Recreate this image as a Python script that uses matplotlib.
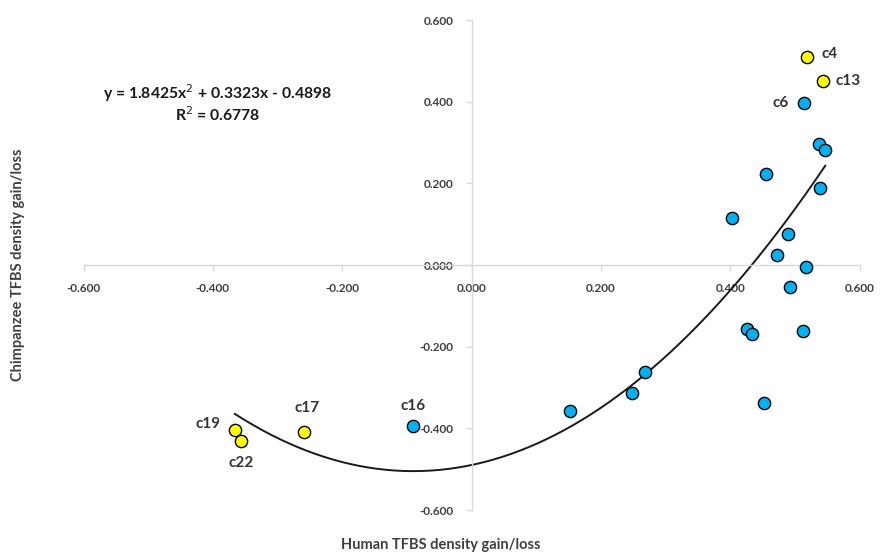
import matplotlib.pyplot as plt
import numpy as np

# chromosomes that stand out (yellow)
outlier_names = ['c4', 'c13', 'c19', 'c22', 'c17']
outlier_human = [0.519, 0.544, -0.366, -0.356, -0.259]
outlier_chimp = [0.509, 0.451, -0.404, -0.431, -0.409]

# the remaining chromosomes (blue); only c6 and c16 get a label
other_names = ['c16', 'c6', '', '', '', '', '', '', '', '', '', '', '', '', '', '', '', '']
other_human = [-0.090, 0.514, 0.537, 0.547, 0.455, 0.539, 0.403, 0.489, 0.472,
               0.517, 0.493, 0.426, 0.434, 0.513, 0.452, 0.268, 0.248, 0.152]
other_chimp = [-0.394, 0.397, 0.296, 0.282, 0.223, 0.189, 0.115, 0.076, 0.024,
               -0.005, -0.054, -0.157, -0.169, -0.162, -0.338, -0.262, -0.313, -0.358]

# polynomial trendline (order 2) and its fit
coef = [1.8425, 0.3323, -0.4898]
r2 = 0.6778

ticks = [-0.6, -0.4, -0.2, 0.0, 0.2, 0.4, 0.6]

plt.rcParams['font.family'] = ['Lato', 'DejaVu Sans']

fig = plt.figure(figsize=(8.82, 5.58), dpi=100)
ax = fig.add_axes([0.0947, 0.086, 0.8798, 0.878])

all_x = np.array(outlier_human + other_human)
xs = np.linspace(all_x.min(), all_x.max(), 200)
ax.plot(xs, np.polyval(coef, xs), color='#1a1a1a', lw=1.4, zorder=2)

ax.scatter(other_human, other_chimp, s=78, color='#00b0f0', edgecolors='black',
           linewidths=1.0, zorder=3)
ax.scatter(outlier_human, outlier_chimp, s=78, color='#ffff00', edgecolors='black',
           linewidths=1.0, zorder=3)

# label offsets in points for each named chromosome
offsets = {'c4': (10, 2, 'left'), 'c13': (9, 0, 'left'), 'c6': (-11, 0, 'right'),
           'c16': (0, 14, 'center'), 'c17': (2, 17, 'center'), 'c19': (-10, 4, 'right'),
           'c22': (0, -16, 'center')}
for name, xv, yv in zip(outlier_names + other_names, outlier_human + other_human,
                        outlier_chimp + other_chimp):
    if not name:
        continue
    dx, dy, ha = offsets[name]
    ax.annotate(name, (xv, yv), xytext=(dx, dy), textcoords='offset points',
                ha=ha, va='center', fontsize=11, fontweight='bold', color='#333333')

ax.set_xlim(-0.6, 0.6)
ax.set_ylim(-0.6, 0.6)
ax.set_xticks(ticks)
ax.set_yticks(ticks)
ax.set_xticklabels([f'{t:.3f}' for t in ticks])
ax.set_yticklabels([f'{t:.3f}' for t in ticks])

for side in ['left', 'bottom']:
    ax.spines[side].set_position(('data', 0))
    ax.spines[side].set_color('#d9d9d9')
    ax.spines[side].set_linewidth(1.0)
ax.spines['top'].set_visible(False)
ax.spines['right'].set_visible(False)
ax.tick_params(axis='both', direction='out', length=4, width=1.0, color='#d9d9d9',
               labelsize=8.5, labelcolor='#404040')
ax.tick_params(axis='x', pad=9)
ax.tick_params(axis='y', pad=9)
for lab in ax.get_xticklabels() + ax.get_yticklabels():
    lab.set_fontweight('bold')

fig.text(0.247, 0.833, 'y = 1.8425x$^2$ + 0.3323x - 0.4898', ha='center', va='center',
         fontsize=11.3, fontweight='bold', color='#1a1a1a')
fig.text(0.247, 0.794, f'R$^2$ = {r2}', ha='center', va='center',
         fontsize=11.3, fontweight='bold', color='#1a1a1a')

fig.text(0.5, 0.023, 'Human TFBS density gain/loss', ha='center', va='center',
         fontsize=10.5, fontweight='bold', color='#404040')
fig.text(0.02, 0.525, 'Chimpanzee TFBS density gain/loss', ha='center', va='center',
         rotation=90, fontsize=10.5, fontweight='bold', color='#404040')

fig.savefig('out.png', dpi=100)
